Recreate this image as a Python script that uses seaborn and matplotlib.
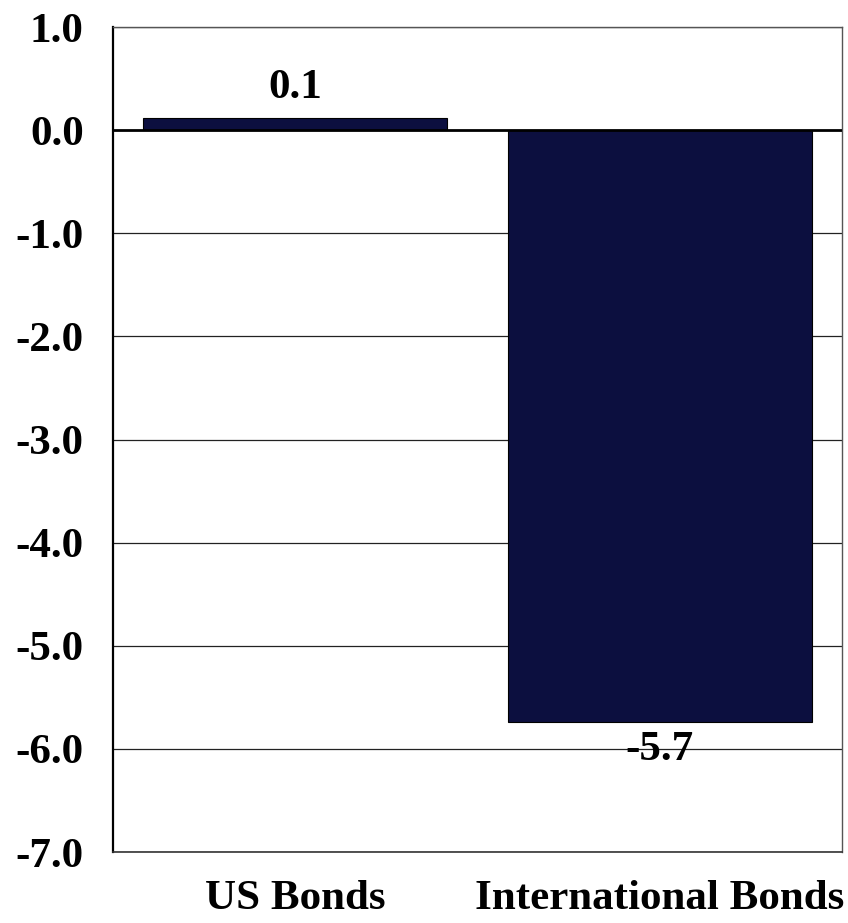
import pandas as pd
import matplotlib.pyplot as plt
import seaborn as sns

# chart data
categories = ["US Bonds", "International Bonds"]
values = [0.12, -5.74]
y_ticks = [1, 0, -1, -2, -3, -4, -5, -6, -7]

df = pd.DataFrame({"Category": categories, "Value": values})

sns.set_style("white")
plt.rcParams["font.family"] = ["Liberation Serif", "DejaVu Serif"]
plt.rcParams["font.weight"] = "bold"
plt.rcParams["text.color"] = "black"
plt.rcParams["xtick.color"] = "black"
plt.rcParams["ytick.color"] = "black"
FS = 31

fig = plt.figure(figsize=(8.48, 9.23), dpi=100)
ax = fig.add_axes([0.1333, 0.0769, 0.8596, 0.8938])

sns.barplot(data=df, x="Category", y="Value", color="#0C0F3F", saturation=1,
            width=0.834, edgecolor="black", linewidth=0.8, ax=ax, zorder=3)

ax.set_ylim(-7, 1)
ax.set_yticks(y_ticks)
ax.set_yticklabels([f"{t:.1f}" for t in y_ticks], fontsize=FS, fontweight="bold")
ax.set_xticks(range(len(categories)))
ax.set_xticklabels(categories, fontsize=FS, fontweight="bold")
ax.tick_params(axis="both", colors="black", labelcolor="black")
ax.tick_params(axis="y", length=0, pad=21)
ax.tick_params(axis="x", length=0, pad=20)
ax.set_xlabel("")
ax.set_ylabel("")

# gridlines
for t in y_ticks:
    if t == 0:
        ax.axhline(t, color="black", linewidth=2, zorder=4)
    else:
        ax.axhline(t, color="#222222", linewidth=0.9, zorder=1)

ax.spines["left"].set_color("black")
ax.spines["left"].set_linewidth(1.6)
ax.spines["bottom"].set_color("#333333")
ax.spines["bottom"].set_linewidth(1.2)
for side in ["top", "right"]:
    ax.spines[side].set_color("#555555")
    ax.spines[side].set_linewidth(1.0)

# value labels
for i, v in enumerate(values):
    if v >= 0:
        ax.text(i, v + 0.19, f"{v:.1f}", ha="center", va="baseline", fontsize=FS,
                fontweight="bold", color="black")
    else:
        ax.text(i, v - 0.09, f"{v:.1f}", ha="center", va="top", fontsize=FS,
                fontweight="bold", color="black", zorder=5)

plt.savefig("out.png", dpi=100)
